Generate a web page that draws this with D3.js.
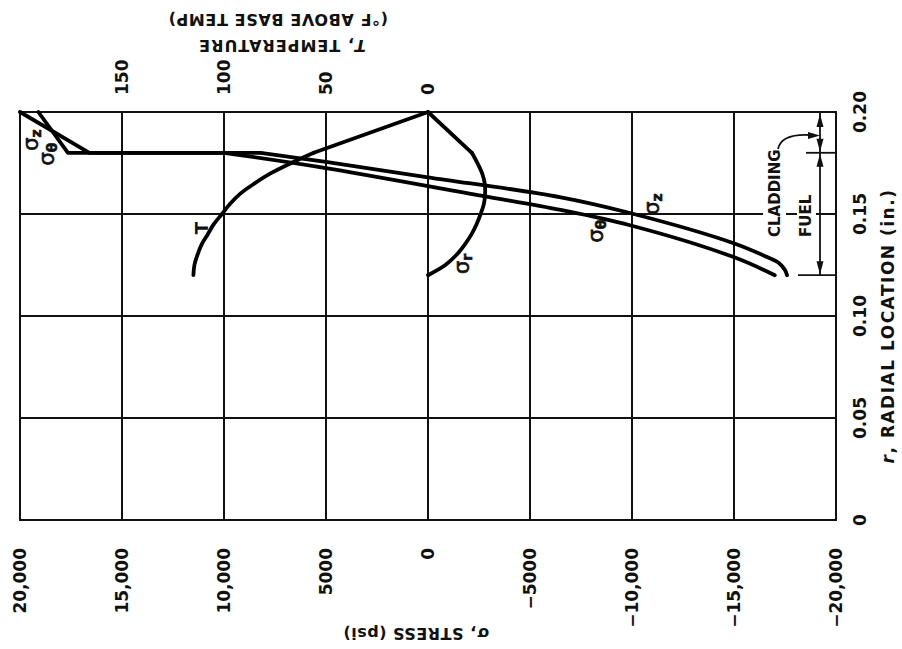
<!DOCTYPE html>
<html>
<head>
<meta charset="utf-8">
<script src="https://cdn.jsdelivr.net/npm/d3@7"></script>
<style>
  body { margin: 0; background: #fff; }
  svg { display: block; }
  text { font-family: "DejaVu Sans", sans-serif; font-weight: bold; fill: #111; }
</style>
</head>
<body>
<svg width="902" height="649"></svg>
<script>
// axis ticks
var stressTicks = [20000, 15000, 10000, 5000, 0, -5000, -10000, -15000, -20000];
var stressLabels = ["20,000", "15,000", "10,000", "5000", "0", "\u22125000", "\u221210,000", "\u221215,000", "\u221220,000"];
var rTicks = [0, 0.05, 0.10, 0.15, 0.20];
var rLabels = ["0", "0.05", "0.10", "0.15", "0.20"];
var tempTicks = [0, 50, 100, 150];

// radii of the regions (in.)
var rCladOuter = 0.20, rCladInner = 0.18, rFuelInner = 0.12;

// [r, value]. cladding part (straight) incl. jump at the interface
var sigmaThetaClad = [[0.20, 19100], [0.18, 17650], [0.18, 10000]];
var sigmaZClad = [[0.20, 20000], [0.18, 16600], [0.18, 8200]];
var sigmaRClad = [[0.20, 0], [0.18, -2150]];
var tempClad = [[0.20, 0], [0.18, 56]];

// fuel part
var sigmaThetaFuel = [[0.18, 10000], [0.173, 5300], [0.159, -2600], [0.152, -6500], [0.1445, -9900], [0.129, -14950], [0.12, -17000]];
var sigmaZFuel = [[0.18, 8200], [0.1755, 5000], [0.168, 0], [0.1583, -6450], [0.1505, -9900], [0.1358, -14950], [0.129, -16600], [0.126, -17200], [0.1225, -17500], [0.12, -17600]];
var sigmaRFuel = [[0.18, -2150], [0.175, -2420], [0.17, -2650], [0.165, -2780], [0.16, -2800], [0.155, -2740], [0.15, -2580], [0.145, -2380], [0.14, -2130], [0.135, -1800], [0.13, -1400], [0.125, -850], [0.12, 0]];
var tempFuel = [[0.18, 56], [0.175, 67], [0.17, 77], [0.165, 85], [0.16, 92], [0.155, 97], [0.15, 101], [0.145, 105], [0.14, 108], [0.135, 111], [0.13, 113], [0.125, 114.5], [0.12, 115]];

var svg = d3.select("svg");

var x = d3.scaleLinear().domain([20000, -20000]).range([20, 836]);
var y = d3.scaleLinear().domain([0, 0.2]).range([520, 112]);
// temperature shares the stress axis: 0 at 0 psi, 50 F per 5000 psi
var xT = d3.scaleLinear().domain([0, 200]).range([x(0), x(20000)]);

//grid
var grid = svg.append("g").attr("stroke", "#111").attr("stroke-width", 2);
grid.selectAll(".v").data(stressTicks).enter()
  .append("line")
    .attr("x1", d => x(d)).attr("x2", d => x(d))
    .attr("y1", y(0) + 1).attr("y2", y(0.2) - 1);
grid.selectAll(".h").data(rTicks).enter()
  .append("line")
    .attr("x1", x(20000) - 1).attr("x2", x(-20000) + 1)
    .attr("y1", d => y(d)).attr("y2", d => y(d));

// white gaps behind CLADDING / FUEL
svg.append("rect").attr("x", 763).attr("y", y(0.15) - 4).attr("width", 23).attr("height", 8).attr("fill", "#fff");
svg.append("rect").attr("x", 797).attr("y", y(0.15) - 4).attr("width", 19).attr("height", 8).attr("fill", "#fff");

//curves
var straight = d3.line().x(d => x(d[1])).y(d => y(d[0]));
var smooth = d3.line().x(d => x(d[1])).y(d => y(d[0])).curve(d3.curveCatmullRom.alpha(0.5));
var straightT = d3.line().x(d => xT(d[1])).y(d => y(d[0]));
var smoothT = d3.line().x(d => xT(d[1])).y(d => y(d[0])).curve(d3.curveCatmullRom.alpha(0.5));

var curves = svg.append("g")
  .attr("fill", "none").attr("stroke", "#000").attr("stroke-width", 3.8)
  .attr("stroke-linejoin", "round").attr("stroke-linecap", "round");

[sigmaThetaClad, sigmaZClad, sigmaRClad].forEach(function(s){
  curves.append("path").attr("d", straight(s));
});
[sigmaThetaFuel, sigmaZFuel, sigmaRFuel].forEach(function(s){
  curves.append("path").attr("d", smooth(s));
});
curves.append("path").attr("d", straightT(tempClad));
curves.append("path").attr("d", smoothT(tempFuel));

//curve labels
function curveLabel(cx, cy, main, sub){
  var t = svg.append("text")
    .attr("transform", `translate(${cx},${cy}) rotate(-90)`)
    .attr("text-anchor", "middle")
    .attr("dominant-baseline", "central")
    .style("font-size", "21px")
    .style("font-weight", "normal")
    .style("stroke", "#111").style("stroke-width", 0.6)
    .text(main);
  if(sub){
    t.append("tspan").attr("dy", 5).style("font-size", "14px").style("font-weight", "bold").text(sub);
  }
}
curveLabel(31, 140, "\u03c3", "z");
curveLabel(47, 154, "\u03c3", "\u03b8");
curveLabel(652, 204, "\u03c3", "z");
curveLabel(596, 231, "\u03c3", "\u03b8");
curveLabel(462, 264, "\u03c3", "r");
svg.append("text")
  .attr("transform", "translate(201,228) rotate(-90)")
  .attr("text-anchor", "middle").attr("dominant-baseline", "central")
  .style("font-size", "18px")
  .text("T");

//stress tick labels (bottom)
svg.selectAll(".sl").data(stressTicks).enter()
  .append("text")
    .attr("transform", d => `translate(${x(d)},548) rotate(-90)`)
    .attr("text-anchor", "end")
    .attr("dominant-baseline", "central")
    .style("font-size", "17px")
    .text((d, i) => stressLabels[i]);

svg.append("text")
  .attr("transform", "translate(416,633) rotate(180)")
  .attr("text-anchor", "middle").attr("dominant-baseline", "central")
  .style("font-size", "16px").style("letter-spacing", "0.5px")
  .text("\u03c3, STRESS (psi)");

//temperature tick labels (top)
svg.selectAll(".tl").data(tempTicks).enter()
  .append("text")
    .attr("transform", d => `translate(${xT(d)},95) rotate(-90)`)
    .attr("text-anchor", "start")
    .attr("dominant-baseline", "central")
    .style("font-size", "17px")
    .text(d => d);

var tTitle = svg.append("text")
  .attr("transform", "translate(282,46) rotate(180)")
  .attr("text-anchor", "middle").attr("dominant-baseline", "central")
  .style("font-size", "16px").style("letter-spacing", "1px");
tTitle.append("tspan").style("font-style", "italic").text("T");
tTitle.append("tspan").text(", TEMPERATURE");
svg.append("text")
  .attr("transform", "translate(278,19) rotate(180)")
  .attr("text-anchor", "middle").attr("dominant-baseline", "central")
  .style("font-size", "16px").style("letter-spacing", "0.6px")
  .text("(\u00b0F ABOVE BASE TEMP)");

//radial tick labels (right)
svg.selectAll(".rl").data(rTicks).enter()
  .append("text")
    .attr("transform", d => `translate(860,${y(d)}) rotate(-90)`)
    .attr("text-anchor", "middle")
    .attr("dominant-baseline", "central")
    .style("font-size", "17px")
    .text((d, i) => rLabels[i]);

var rTitle = svg.append("text")
  .attr("transform", `translate(888,${(y(0) + y(0.2)) / 2 + 10}) rotate(-90)`)
  .attr("text-anchor", "middle").attr("dominant-baseline", "central")
  .style("font-size", "17px").style("letter-spacing", "1.5px");
rTitle.append("tspan").style("font-style", "italic").text("r");
rTitle.append("tspan").text(", RADIAL LOCATION (in.)");

//cladding / fuel dimension marks
var dim = svg.append("g").attr("stroke", "#111").attr("stroke-width", 1.8);
dim.append("line").attr("x1", 820).attr("x2", 820).attr("y1", y(rCladOuter) + 1).attr("y2", y(rFuelInner));
dim.append("line").attr("x1", 806).attr("x2", 836).attr("y1", y(rCladInner)).attr("y2", y(rCladInner));
dim.append("line").attr("x1", 798).attr("x2", 836).attr("y1", y(rFuelInner)).attr("y2", y(rFuelInner));

function arrowHead(tx, ty, dir){
  // dir -1: pointing up, 1: pointing down, 2: pointing right
  var pts;
  if(dir === 2) pts = [[tx, ty], [tx - 12, ty - 3.5], [tx - 12, ty + 3.5]];
  else pts = [[tx, ty], [tx - 3.5, ty - dir * 13], [tx + 3.5, ty - dir * 13]];
  svg.append("path").attr("d", "M" + pts.join("L") + "Z").attr("fill", "#111");
}
arrowHead(820, y(rCladOuter) + 2, -1);
arrowHead(820, y(rCladInner) - 1, 1);
arrowHead(820, y(rCladInner) + 1, -1);
arrowHead(820, y(rFuelInner) - 1, 1);

svg.append("path")
  .attr("d", "M778,149 C780,139 790,134 810,135")
  .attr("fill", "none").attr("stroke", "#111").attr("stroke-width", 1.8);
arrowHead(820, 135.5, 2);

svg.append("text")
  .attr("transform", "translate(775,237) rotate(-90)")
  .attr("text-anchor", "start").attr("dominant-baseline", "central")
  .style("font-size", "15px")
  .text("CLADDING");
svg.append("text")
  .attr("transform", "translate(806,237) rotate(-90)")
  .attr("text-anchor", "start").attr("dominant-baseline", "central")
  .style("font-size", "15px")
  .text("FUEL");
</script>
</body>
</html>
